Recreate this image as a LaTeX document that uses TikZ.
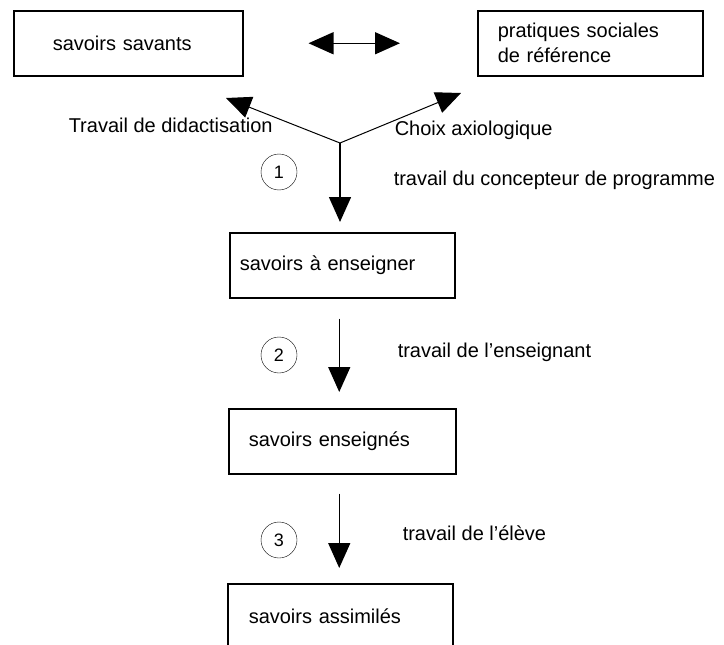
\documentclass[tikz,border=0pt]{standalone}
\usepackage{fontspec}
\setmainfont{Liberation Sans}
\usetikzlibrary{arrows.meta}
\tikzset{
    savoir/.style = {rectangle, draw=black, line width=1.5pt, minimum height=65pt, inner ysep=0pt, align=left, anchor=north west, font=\fontsize{20}{25}\selectfont},
    etape/.style = {circle, draw=black, thin, minimum size=36pt, inner sep=0pt, font=\fontsize{18}{20}\selectfont},
    travail/.style = {anchor=west, inner sep=0pt, font=\fontsize{20}{25}\selectfont}
}

\begin{document}
\begin{tikzpicture}
            [x=1pt, y=-1pt, line width=1.5pt,
            >={Triangle[width=22pt, length=25pt]}]

            \useasboundingbox (0,0) rectangle (724,645);
            \clip (0,0) rectangle (724,645);

            % boxes
            \node (savants) [savoir, inner xsep=39pt, text width=151pt] at (13,10) {savoirs savants};
            \node (pratiques) [savoir, inner xsep=20pt, text width=185pt] at (477,10) {pratiques sociales\\de référence};
            \node (aenseigner) [savoir, inner xsep=10pt, text width=205pt] at (229,232) {savoirs à enseigner};
            \node (enseignes) [savoir, inner xsep=20pt, text width=187pt] at (228,408) {savoirs enseignés};
            \node (assimiles) [savoir, inner xsep=21pt, text width=183pt] at (227,583) {savoirs assimilés};

            % fork
            \coordinate (fork) at (340,143);
            \coordinate (tipL) at (226,98);
            \coordinate (tipR) at (461,93);

            \draw [<->] (savants.east) -- (pratiques.west) [shorten <=65pt, shorten >=77pt];
            \draw [->, line width=1pt] (fork) -- (tipL);
            \draw [->, line width=1pt] (fork) -- (tipR);
            \draw [->] (fork) -- (fork |- aenseigner.north) [shorten >=10pt];
            \draw [->, shorten <=20pt, shorten >=16pt] (aenseigner.south) ++(-3,0) coordinate (from2) -- (from2 |- enseignes.north);
            \draw [->, shorten <=19pt, shorten >=15pt] (enseignes.south) ++(-3,0) coordinate (from3) -- (from3 |- assimiles.north);

            % steps
            \node (etape1) [etape] at (279,172) {1};
            \node (etape2) [etape] at (279,355) {2};
            \node (etape3) [etape] at (279,540) {3};

            % labels
            \node (didact) [travail] at (68,125) {Travail de didactisation};
            \node (axio) [travail] at (394,130) {Choix axiologique};
            \node (concepteur) [travail] at (393,180) {travail du concepteur de programme};
            \node (enseignant) [travail] at (397,352) {travail de l'enseignant};
            \node (eleve) [travail] at (402,533) {travail de l'élève};
\end{tikzpicture}
\end{document}
